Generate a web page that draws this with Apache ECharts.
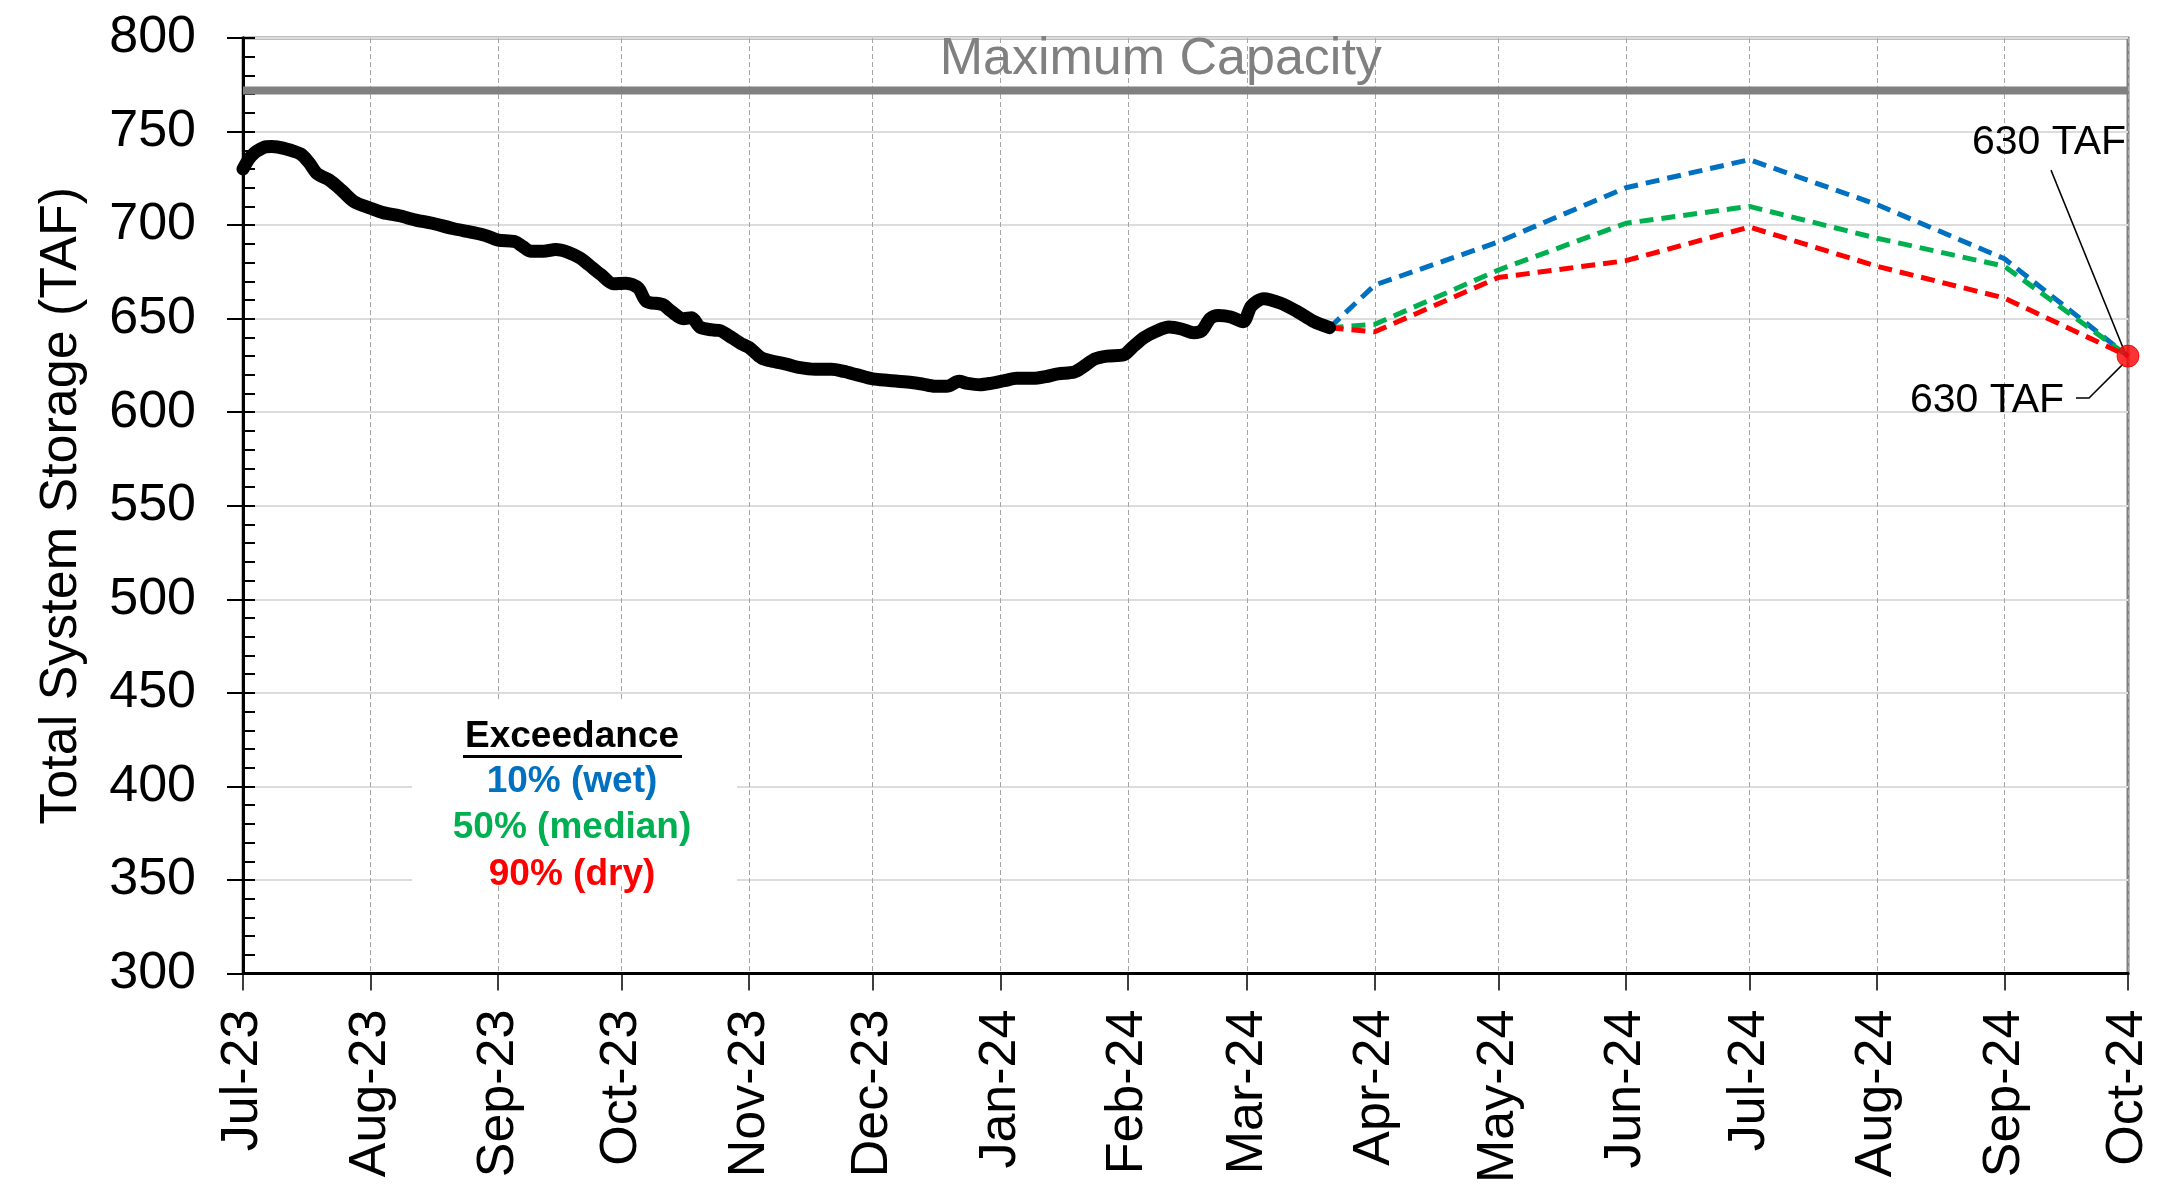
<!DOCTYPE html>
<html>
<head>
<meta charset="utf-8">
<title>Total System Storage</title>
<script src="https://cdn.jsdelivr.net/npm/echarts@6/dist/echarts.min.js"></script>
<style>
  html, body { margin: 0; padding: 0; background: #fff; }
  #main { width: 2179px; height: 1186px; }
</style>
</head>
<body>
<div id="main"></div>
<script>
// observed storage (TAF)
var histDates = ['2023-07-01','2023-07-03','2023-07-06','2023-07-08','2023-07-11','2023-07-15','2023-07-17','2023-07-19',
  '2023-07-22','2023-07-25','2023-07-28','2023-08-01','2023-08-04','2023-08-08','2023-08-12','2023-08-16','2023-08-21',
  '2023-08-26','2023-08-29','2023-09-01','2023-09-05','2023-09-07','2023-09-09','2023-09-12','2023-09-15','2023-09-18',
  '2023-09-21','2023-09-23','2023-09-26','2023-09-29','2023-10-02','2023-10-05','2023-10-07','2023-10-11','2023-10-13',
  '2023-10-16','2023-10-18','2023-10-20','2023-10-23','2023-10-25','2023-10-28','2023-10-30','2023-11-01','2023-11-04',
  '2023-11-07','2023-11-10','2023-11-13','2023-11-17','2023-11-21','2023-11-24','2023-11-27','2023-12-01','2023-12-05',
  '2023-12-10','2023-12-13','2023-12-16','2023-12-19','2023-12-22','2023-12-24','2023-12-27','2023-12-30','2024-01-02',
  '2024-01-05','2024-01-09','2024-01-12','2024-01-15','2024-01-19','2024-01-21','2024-01-24','2024-01-27','2024-01-31',
  '2024-02-02','2024-02-05','2024-02-08','2024-02-11','2024-02-14','2024-02-17','2024-02-19','2024-02-21','2024-02-23',
  '2024-02-26','2024-02-29','2024-03-02','2024-03-05','2024-03-09','2024-03-13','2024-03-17','2024-03-21'];
var histValues = [730,737,741.5,742,741,738,733.5,727.5,
  724,718.5,712.5,709,706.7,705,702.7,701,698.2,
  696,694.4,692,691.2,688.5,686,686,687,685.5,
  682.3,678.8,673.5,668.7,669,666.4,659.3,657.5,654,
  650,650.5,645.5,644,643.5,639.5,636.7,634.5,629,
  627.1,625.7,624,623,623,621.8,620.1,617.8,617,
  616,615.1,613.9,613.9,616.5,615.4,614.7,615.6,616.9,
  618.1,618.1,619,620.5,621.5,624,628.5,630,630.7,
  634.5,640,643.4,645.5,644.5,642.5,643.7,650.1,651.7,
  650.9,648.4,656.7,660.7,658.4,654,648.7,645.2];

// forecast by exceedance
var fcDates = ['2024-03-21','2024-04-01','2024-05-01','2024-06-01','2024-07-01','2024-08-01','2024-09-01','2024-10-01'];
var wet10 = [645.2,668,691,720,735,711,682,630];
var median50 = [645.2,647,676,701,710,693,678,630];
var dry90 = [645.2,643,672,681,699,678,661,630];

var maxCapacity = 772;
var endDate = '2024-10-01';
var endValue = 630;
var months = ['Jan','Feb','Mar','Apr','May','Jun','Jul','Aug','Sep','Oct','Nov','Dec'];
var yTicks = { min: 300, max: 800, step: 50 };

var FONT = "'Liberation Sans', Arial, sans-serif";
var DAY = 86400000;

function pairs(xs, ys) {
  var out = [];
  for (var i = 0; i < xs.length; i++) out.push([xs[i], ys[i]]);
  return out;
}

function dashed(name, color, vals) {
  return {
    name: name, type: 'line', data: pairs(fcDates, vals),
    symbol: 'none', z: 3,
    lineStyle: { color: color, width: 5, type: [14, 8] }
  };
}

var myChart = echarts.init(document.getElementById('main'));

var option = {
  backgroundColor: '#fff',
  animation: false,
  textStyle: { fontFamily: FONT },
  grid: {
    left: 243, right: 51, top: 38, bottom: 201,
    show: true, borderColor: '#808080', borderWidth: 3
  },
  xAxis: {
    type: 'time',
    min: '2023-07-01',
    max: endDate,
    minInterval: 28 * DAY,
    maxInterval: 31 * DAY,
    splitNumber: 15,
    axisLine: { lineStyle: { color: '#000', width: 3 } },
    axisTick: { show: true, length: 17, lineStyle: { color: '#000', width: 1.5 } },
    axisLabel: {
      rotate: 90, margin: 36, fontSize: 52, color: '#000', fontFamily: FONT,
      interval: 0, showMinLabel: true, showMaxLabel: true,
      formatter: function (v) {
        var d = new Date(v);
        return months[d.getMonth()] + '-' + String(d.getFullYear()).slice(2);
      }
    },
    splitLine: { show: true, lineStyle: { color: '#a6a6a6', width: 1, type: [5, 3] } }
  },
  yAxis: [
    {
      type: 'value', position: 'left', min: yTicks.min, max: yTicks.max, interval: yTicks.step,
      name: 'Total System Storage (TAF)',
      nameLocation: 'middle', nameGap: 155,
      nameTextStyle: { fontSize: 52, color: '#000', fontFamily: FONT },
      axisLine: { show: true, lineStyle: { color: '#000', width: 3 } },
      axisTick: { show: true, length: 16, lineStyle: { color: '#000', width: 2 } },
      axisLabel: { fontSize: 52, color: '#000', margin: 47, fontFamily: FONT },
      splitLine: { show: true, lineStyle: { color: '#dcdcdc', width: 2 } }
    },
    {
      // minor ticks pointing inward every 10 TAF
      type: 'value', position: 'left', offset: 0,
      min: yTicks.min, max: yTicks.max, interval: 10,
      axisLine: { show: true, lineStyle: { color: '#000', width: 3 } },
      axisTick: { show: true, inside: true, length: 12, lineStyle: { color: '#000', width: 2 } },
      axisLabel: { show: false },
      splitLine: { show: false }
    }
  ],
  series: [
    {
      name: 'Maximum Capacity', type: 'line', symbol: 'none', z: 2,
      data: [['2023-07-01', maxCapacity], [endDate, maxCapacity]],
      lineStyle: { color: '#808080', width: 8 },
      markPoint: {
        symbol: 'rect', symbolSize: 1,
        itemStyle: { color: 'rgba(0,0,0,0)' },
        label: {
          show: true, position: 'top', distance: 0,
          formatter: 'Maximum Capacity', fontSize: 52, color: '#808080', fontFamily: FONT
        },
        data: [{ coord: ['2024-02-09', maxCapacity + 2] }]
      }
    },
    dashed('10% (wet)', '#0070C0', wet10),
    dashed('50% (median)', '#00B050', median50),
    dashed('90% (dry)', '#FF0000', dry90),
    {
      name: 'Observed', type: 'line', symbol: 'none', z: 4, smooth: 0.3,
      data: pairs(histDates, histValues),
      lineStyle: { color: '#000', width: 13, cap: 'round', join: 'round' }
    },
    {
      name: 'End', type: 'scatter', z: 6,
      data: [[endDate, endValue]],
      symbolSize: 22,
      itemStyle: { color: '#FF0000', borderColor: '#e00000', borderWidth: 1 }
    }
  ]
};

myChart.setOption(option);

// legend box and the end point callouts, drawn as graphics
var p = myChart.convertToPixel({ gridIndex: 0 }, [endDate, endValue]);
var lbl = endValue + ' TAF';
var bold = 'bold 37px ' + FONT;
myChart.setOption({
  graphic: [
    {
      id: 'exceedance', type: 'group', x: 412, y: 702, z: 10,
      children: [
        { type: 'rect', shape: { x: 0, y: 0, width: 325, height: 183 }, style: { fill: '#fff' } },
        { type: 'text', x: 160, y: 35, style: { text: 'Exceedance', font: bold, fill: '#000', align: 'center', verticalAlign: 'middle' } },
        { type: 'rect', shape: { x: 51, y: 53, width: 219, height: 3 }, style: { fill: '#000' } },
        { type: 'text', x: 160, y: 80, style: { text: '10% (wet)', font: bold, fill: '#0070C0', align: 'center', verticalAlign: 'middle' } },
        { type: 'text', x: 160, y: 126, style: { text: '50% (median)', font: bold, fill: '#00B050', align: 'center', verticalAlign: 'middle' } },
        { type: 'text', x: 160, y: 173, style: { text: '90% (dry)', font: bold, fill: '#FF0000', align: 'center', verticalAlign: 'middle' } }
      ]
    },
    {
      id: 'callouts', type: 'group', x: 0, y: 0, z: 10,
      children: [
        { type: 'text', x: p[0] - 79, y: p[1] - 213, style: { text: lbl, font: '41px ' + FONT, fill: '#000', align: 'center', verticalAlign: 'middle' } },
        { type: 'polyline', shape: { points: [[p[0] - 77, p[1] - 186], [p[0] - 2, p[1] - 1]] }, style: { stroke: '#000', lineWidth: 1.5, fill: null } },
        { type: 'text', x: p[0] - 141, y: p[1] + 45, style: { text: lbl, font: '41px ' + FONT, fill: '#000', align: 'center', verticalAlign: 'middle' } },
        { type: 'polyline', shape: { points: [[p[0] - 52, p[1] + 42], [p[0] - 39, p[1] + 42], [p[0] - 5, p[1] + 8]] }, style: { stroke: '#000', lineWidth: 1.5, fill: null } }
      ]
    }
  ]
});
</script>
</body>
</html>
